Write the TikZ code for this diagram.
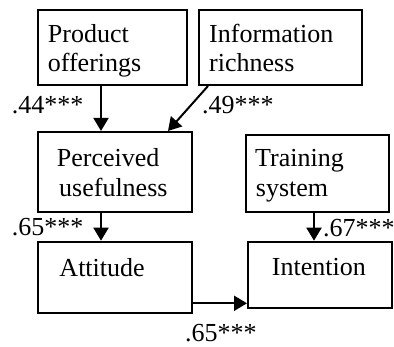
\documentclass[tikz,border=0pt]{standalone}
\usepackage{fontspec}
\setmainfont{Liberation Serif}
\usetikzlibrary{arrows.meta}
\begin{document}
\begin{tikzpicture}[x=1pt,y=-1pt,
  box/.style={draw,line width=2pt,rectangle,inner sep=0pt},
  txt/.style={anchor=base west,inner sep=0pt,font=\fontsize{26}{28}\selectfont},
  arr/.style={line width=2pt,-{Triangle[length=13pt,width=15pt]}}]
\useasboundingbox (0,0) rectangle (394,346);
\node[box,minimum width=149pt,minimum height=75pt] (PO) at (112.2,47.5) {};
\node[box,minimum width=163pt,minimum height=75pt] (IR) at (280.5,47.5) {};
\node[box,minimum width=154.3pt,minimum height=79.7pt] (PU) at (114.8,171.8) {};
\node[box,minimum width=142.7pt,minimum height=76.7pt] (TS) at (317.3,173.3) {};
\node[box,minimum width=154.3pt,minimum height=71pt] (AT) at (114.8,277.2) {};
\node[box,minimum width=144pt,minimum height=66pt] (IN) at (320,274.7) {};
\node[txt] (t1) at (47.7,42.7) {Product};
\node[txt] (t2) at (47.7,71) {offerings};
\node[txt] (t3) at (209,42.7) {Information};
\node[txt] (t4) at (209,71) {richness};
\node[txt] (t5) at (56.7,166.7) {Perceived};
\node[txt] (t6) at (59,196) {usefulness};
\node[txt] (t7) at (255,166.7) {Training};
\node[txt] (t8) at (255.7,196) {system};
\node[txt] (t9) at (59.3,276.7) {Attitude};
\node[txt] (t10) at (271.7,275) {Intention};
\node[txt] (l1) at (11.7,113) {.44***};
\node[txt] (l2) at (202,113) {.49***};
\node[txt] (l3) at (11.7,235) {.65***};
\node[txt] (l4) at (323,236) {.67***};
\node[txt] (l5) at (185,341.7) {.65***};
\draw[arr] (PO.south -| 101,0) -- (PU.north -| 101,0);
\draw[arr] (IR.south -| 208,0) -- (PU.north -| 168,0);
\draw[arr] (PU.south -| 101,0) -- (AT.north -| 101,0);
\draw[arr] (TS.south -| 314,0) -- (IN.north -| 314,0);
\draw[arr] (AT.east |- 0,303.3) -- (IN.west |- 0,303.3);
\end{tikzpicture}
\end{document}
